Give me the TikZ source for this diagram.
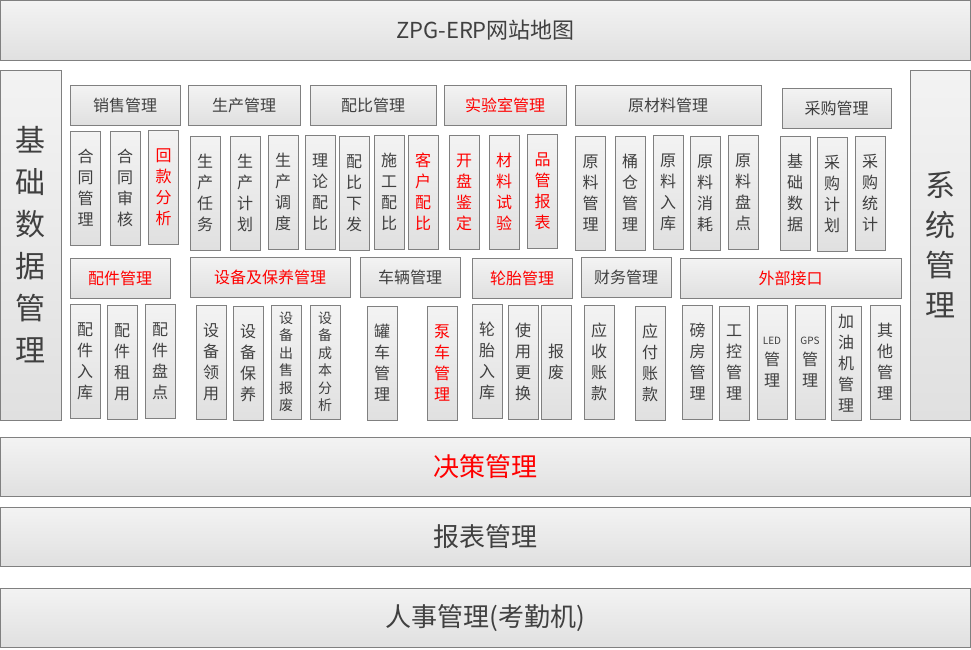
\documentclass[tikz,border=0pt]{standalone}
\usepackage{fontspec}
\setmainfont{Noto Sans CJK SC}

\definecolor{boxline}{HTML}{808080}
\definecolor{boxtop}{HTML}{F3F3F3}
\definecolor{boxbot}{HTML}{E0E0E0}
\definecolor{txtgray}{HTML}{404040}
\definecolor{hotred}{HTML}{FF0000}

\begin{document}
\begin{tikzpicture}[x=1pt,y=-1pt,
    box/.style={draw=boxline,line width=1pt,top color=boxtop,bottom color=boxbot,%
      text=txtgray,inner sep=1pt,align=center},
    bar/.style={box,minimum width=970pt,minimum height=59.5pt,font=\fontsize{26}{30}\selectfont},
    head/.style={box,minimum height=40pt,font=\fontsize{16}{20}\selectfont},
    cell/.style={box,minimum width=30pt,minimum height=114pt,font=\fontsize{16}{21}\selectfont},
    small/.style={font=\fontsize{14}{17.5}\selectfont},
    side/.style={box,minimum width=60.5pt,minimum height=350pt,font=\fontsize{30}{42}\selectfont},
    hot/.style={text=hotred}]
    \useasboundingbox (0,0) rectangle (971,649);

    % top and bottom bars
    \node[bar,font=\fontsize{22}{26}\selectfont] (title) at (485.5,30.25) {ZPG-ERP网站地图};
    \node[bar,hot] (jcgl) at (485.5,467) {决策管理};
    \node[bar] (bbgl) at (485.5,537) {报表管理};
    \node[bar] (rsgl) at (485.5,618) {人事管理(考勤机)};

    % side columns
    \node[side] (jcsjgl) at (30.75,245) {基\\础\\数\\据\\管\\理};
    \node[side,font=\fontsize{30}{40}\selectfont] (xtgl) at (940.25,245) {系\\统\\管\\理};

    % first row of groups
    \node[head,minimum width=110] (xsgl) at (125,105) {销售管理};
    \node[head,minimum width=112] (scgl) at (244,105) {生产管理};
    \node[head,minimum width=126] (pbgl) at (373,105) {配比管理};
    \node[head,hot,minimum width=122] (sysgl) at (505,105) {实验室管理};
    \node[head,minimum width=186] (yclgl) at (668,105) {原材料管理};
    \node[head,minimum width=109] (cggl) at (836.5,108) {采购管理};

    \node[cell] (htgl) at (85.5,188) {合\\同\\管\\理};
    \node[cell] (htsh) at (125,188) {合\\同\\审\\核};
    \node[cell,hot] (hkfx) at (163.5,187) {回\\款\\分\\析};
    \node[cell] (scrw) at (205,193) {生\\产\\任\\务};
    \node[cell] (scjh) at (245,193) {生\\产\\计\\划};
    \node[cell] (scdd) at (283,192) {生\\产\\调\\度};
    \node[cell] (llpb) at (320,192) {理\\论\\配\\比};
    \node[cell] (pbxf) at (354,193) {配\\比\\下\\发};
    \node[cell] (sgpb) at (389,192) {施\\工\\配\\比};
    \node[cell,hot] (khpb) at (423,192) {客\\户\\配\\比};
    \node[cell,hot] (kpjd) at (464,192) {开\\盘\\鉴\\定};
    \node[cell,hot] (clsy) at (504,192) {材\\料\\试\\验};
    \node[cell,hot] (pgbb) at (542.5,191) {品\\管\\报\\表};
    \node[cell] (ylgl) at (590.5,193) {原\\料\\管\\理};
    \node[cell] (tcgl) at (630,193) {桶\\仓\\管\\理};
    \node[cell] (ylrk) at (668,192) {原\\料\\入\\库};
    \node[cell] (ylxh) at (705,193) {原\\料\\消\\耗};
    \node[cell] (ylpd) at (743,192) {原\\料\\盘\\点};
    \node[cell] (jcsj) at (795,193) {基\\础\\数\\据};
    \node[cell] (cgjh) at (832,194) {采\\购\\计\\划};
    \node[cell] (cgtj) at (870,193) {采\\购\\统\\计};

    % second row of groups
    \node[head,hot,minimum width=100] (pjgl) at (120,278) {配件管理};
    \node[head,hot,minimum width=160] (sbgl) at (270,277) {设备及保养管理};
    \node[head,minimum width=100] (clgl) at (410,277) {车辆管理};
    \node[head,hot,minimum width=100] (ltgl) at (522,278) {轮胎管理};
    \node[head,minimum width=90] (cwgl) at (626,277) {财务管理};
    \node[head,hot,minimum width=221] (wbjk) at (790.5,278) {外部接口};

    \node[cell] (pjrk) at (85,361) {配\\件\\入\\库};
    \node[cell] (pjzy) at (122,362) {配\\件\\租\\用};
    \node[cell] (pjpd) at (160,361) {配\\件\\盘\\点};
    \node[cell] (sbly) at (211,362) {设\\备\\领\\用};
    \node[cell] (sbby) at (248,363) {设\\备\\保\\养};
    \node[cell,small] (sbcs) at (286,362) {设\\备\\出\\售\\报\\废};
    \node[cell,small] (sbcb) at (325,362) {设\\备\\成\\本\\分\\析};
    \node[cell] (gcgl) at (382,363) {罐\\车\\管\\理};
    \node[cell,hot] (bcgl) at (442,363) {泵\\车\\管\\理};
    \node[cell] (ltrk) at (487,361) {轮\\胎\\入\\库};
    \node[cell] (sygh) at (523,362) {使\\用\\更\\换};
    \node[cell] (ltbf) at (556,362) {报\\废};
    \node[cell] (yszk) at (599,362) {应\\收\\账\\款};
    \node[cell] (yfzk) at (650,363) {应\\付\\账\\款};
    \node[cell] (bfgl) at (697.5,362) {磅\\房\\管\\理};
    \node[cell] (gkgl) at (734,363) {工\\控\\管\\理};
    \node[cell] (ledgl) at (772,362) {{\fontsize{10}{12}\selectfont LED}\\管\\理};
    \node[cell] (gpsgl) at (810,362) {{\fontsize{10}{12}\selectfont GPS}\\管\\理};
    \node[cell] (jyjgl) at (846,363) {加\\油\\机\\管\\理};
    \node[cell] (qtgl) at (885,362) {其\\他\\管\\理};
  \end{tikzpicture}
\end{document}
